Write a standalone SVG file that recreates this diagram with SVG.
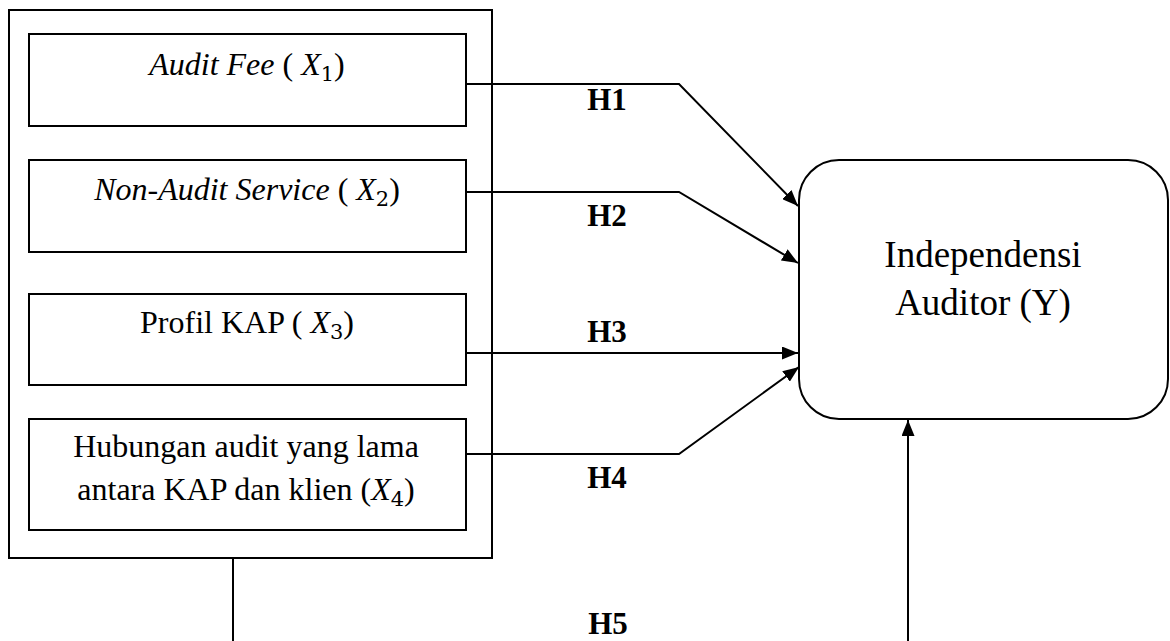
<svg xmlns="http://www.w3.org/2000/svg" width="1170" height="641" viewBox="0 0 1170 641">
<style>
.box{fill:#fff;stroke:#000;stroke-width:2}
.t{font-family:"Liberation Serif","Times New Roman",serif;font-size:32px;fill:#000;text-anchor:middle}
.i{font-style:italic}
.sub{font-size:21px;font-family:"DejaVu Serif","Liberation Serif",serif;font-style:normal}
.h{font-family:"Liberation Serif","Times New Roman",serif;font-size:31px;font-weight:bold;fill:#000;text-anchor:middle}
.y{font-family:"Liberation Serif","Times New Roman",serif;font-size:37px;fill:#000;text-anchor:middle}
.c{fill:none;stroke:#000;stroke-width:2}
</style>
<defs>
<marker id="arr" viewBox="0 0 16 13" refX="16" refY="6.5" markerWidth="16" markerHeight="13" markerUnits="userSpaceOnUse" orient="auto">
<path d="M0,0 L16,6.5 L0,13 Z" fill="#000"/>
</marker>
</defs>
<g id="outer"><rect class="box" x="9" y="10" width="483" height="548"/></g>
<g id="x1"><rect class="box" x="29" y="34" width="437" height="92"/>
<text class="t" x="247" y="75"><tspan class="i">Audit Fee</tspan> ( <tspan class="i">X</tspan><tspan class="sub" dy="6">1</tspan><tspan dy="-6">)</tspan></text></g>
<g id="x2"><rect class="box" x="29" y="160" width="437" height="92"/>
<text class="t" x="247" y="200"><tspan class="i">Non-Audit Service</tspan> ( <tspan class="i">X</tspan><tspan class="sub" dy="6">2</tspan><tspan dy="-6">)</tspan></text></g>
<g id="x3"><rect class="box" x="29" y="294" width="437" height="91"/>
<text class="t" x="247" y="333">Profil KAP ( <tspan class="i">X</tspan><tspan class="sub" dy="6">3</tspan><tspan dy="-6">)</tspan></text></g>
<g id="x4"><rect class="box" x="29" y="419" width="437" height="111"/>
<text class="t" x="246" y="457">Hubungan audit yang lama</text>
<text class="t" x="246" y="500">antara KAP dan klien (<tspan class="i">X</tspan><tspan class="sub" dy="6">4</tspan><tspan dy="-6">)</tspan></text></g>
<g id="y"><rect class="box" x="799" y="160" width="369" height="259" rx="40" ry="40"/>
<text class="y" x="983" y="267">Independensi</text>
<text class="y" x="983" y="315">Auditor (Y)</text></g>
<g id="connectors">
<polyline class="c" points="466,84 679,84 798,206" marker-end="url(#arr)"/>
<polyline class="c" points="466,192 679,192 798,263" marker-end="url(#arr)"/>
<polyline class="c" points="466,353 798,353" marker-end="url(#arr)"/>
<polyline class="c" points="466,454 679,454 799,367" marker-end="url(#arr)"/>
<polyline class="c" points="233,558 233,641"/>
<polyline class="c" points="908,641 908,420" marker-end="url(#arr)"/>
</g>
<g id="labels">
<text class="h" x="607" y="110">H1</text>
<text class="h" x="607" y="226">H2</text>
<text class="h" x="607" y="342">H3</text>
<text class="h" x="607" y="488">H4</text>
<text class="h" x="608" y="634">H5</text>
</g>
</svg>
